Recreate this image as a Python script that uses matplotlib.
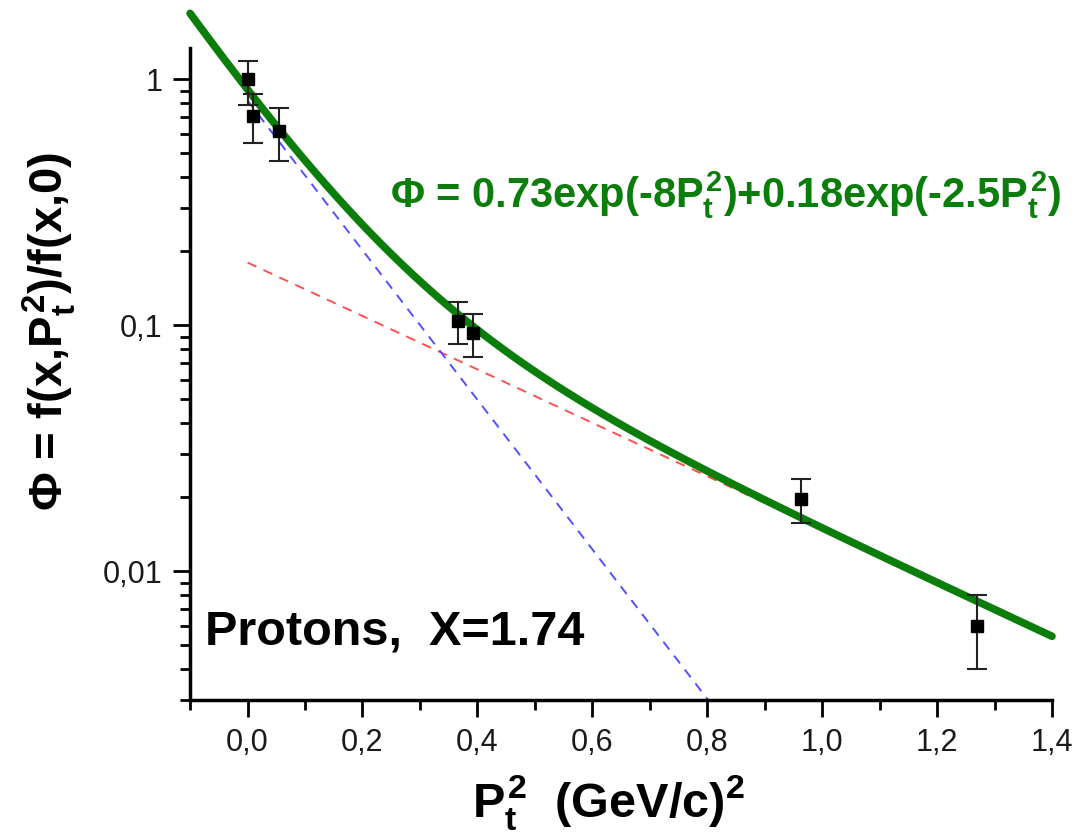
import numpy as np
import matplotlib
matplotlib.use("Agg")
import matplotlib.pyplot as plt
from matplotlib.ticker import FixedLocator, FuncFormatter, LogLocator, NullFormatter, MultipleLocator

plt.rcParams["font.family"] = "Liberation Sans"
plt.rcParams["mathtext.fontset"] = "custom"
plt.rcParams["mathtext.rm"] = "Liberation Sans:bold"
plt.rcParams["mathtext.it"] = "Liberation Sans:bold"
plt.rcParams["mathtext.bf"] = "Liberation Sans:bold"

# measured points (P_t^2, Phi) with asymmetric errors
pt2 = [0.000, 0.010, 0.054, 0.367, 0.393, 0.963, 1.269]
phi = [1.00, 0.71, 0.615, 0.104, 0.093, 0.0196, 0.0060]
err_hi = [1.19, 0.87, 0.763, 0.124, 0.111, 0.0238, 0.0080]
err_lo = [0.79, 0.55, 0.465, 0.084, 0.0745, 0.0157, 0.0040]

# fit components as drawn
a1, b1 = 0.73, 8.0      # steep component (green sum)
a2, b2 = 0.18, 2.5      # slow component
blue_a, blue_b = 0.82, 7.0   # dashed steep line as drawn

green = "#0b7d0b"

fig = plt.figure(figsize=(10.74, 8.4), dpi=100)
ax = fig.add_axes([0.177, 0.1667, 0.8025, 0.776])

xs = np.linspace(-0.1, 1.4, 400)
x0 = np.linspace(0.0, 1.4, 400)
ax.plot(x0, a2 * np.exp(-b2 * x0), ls=(0, (5, 4)), color="#ff5050", lw=1.4, zorder=2)
ax.plot(x0, blue_a * np.exp(-blue_b * x0), ls=(0, (5, 4)), color="#5050ff", lw=1.4, zorder=2)
ax.plot(xs, a1 * np.exp(-b1 * xs) + a2 * np.exp(-b2 * xs), color=green, lw=5.5,
        solid_capstyle="round", zorder=3, clip_on=False)

phi_a = np.array(phi)
yerr = [phi_a - np.array(err_lo), np.array(err_hi) - phi_a]
ax.errorbar(pt2, phi, yerr=yerr, fmt="s", color="black", ms=9, ecolor="#222222",
            elinewidth=1.5, capsize=7, capthick=1.5, zorder=4)

ax.set_yscale("log")
ax.set_xlim(-0.1, 1.4)
ax.set_ylim(0.003, 1.34)

for s in ["top", "right"]:
    ax.spines[s].set_visible(False)
for s in ["left", "bottom"]:
    ax.spines[s].set_linewidth(2.5)

ax.xaxis.set_major_locator(MultipleLocator(0.2))
ax.xaxis.set_minor_locator(MultipleLocator(0.1))
ax.xaxis.set_major_formatter(FuncFormatter(lambda v, p: f"{v:.1f}".replace(".", ",")))
ax.yaxis.set_major_locator(FixedLocator([0.01, 0.1, 1]))
ax.yaxis.set_minor_locator(LogLocator(base=10, subs=np.arange(2, 10)))
ax.yaxis.set_minor_formatter(NullFormatter())
ax.yaxis.set_major_formatter(FuncFormatter(lambda v, p: {1: "1", 0.1: "0,1", 0.01: "0,01"}.get(round(v, 4), "")))
ax.tick_params(which="major", length=12, width=2, labelsize=22, labelcolor="#1a1a1a", pad=8)
ax.tick_params(which="minor", length=7, width=2)

ax.set_xlabel("$P_t^2$  (GeV/c)$^2$", fontsize=35, fontweight="bold")
ax.xaxis.set_label_coords(0.485, -0.112)
ax.set_ylabel("Φ = f(x,$P_t^2$)/f(x,0)", fontsize=34, fontweight="bold")
ax.yaxis.set_label_coords(-0.13, 0.565)

ax.text(0.232, 0.775, "Φ = 0.73exp(-8$P_t^2$)+0.18exp(-2.5$P_t^2$)", transform=ax.transAxes,
        fontsize=30, fontweight="bold", color=green, ha="left", va="center", clip_on=False)
ax.text(0.017, 0.104, "Protons,  X=1.74", transform=ax.transAxes,
        fontsize=35, fontweight="bold", color="black", ha="left", va="center")

fig.savefig("out.png", dpi=100)
